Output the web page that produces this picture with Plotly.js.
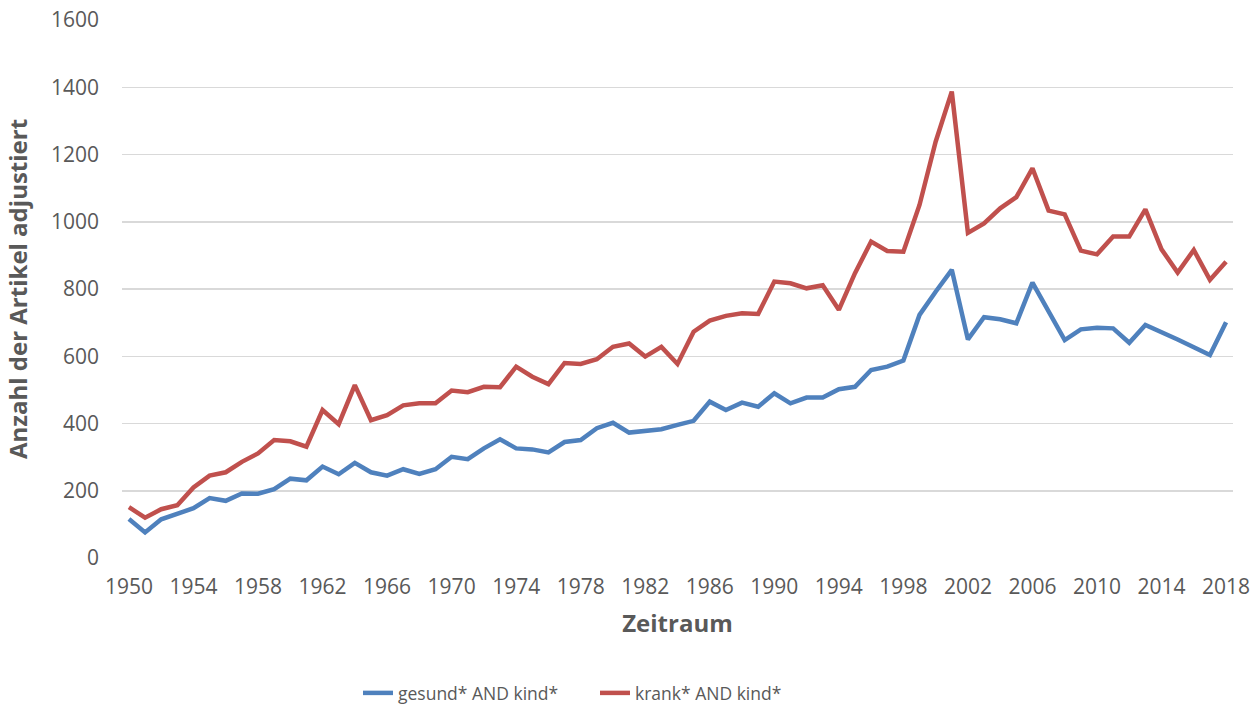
<!DOCTYPE html>
<html>
<head>
<meta charset="utf-8">
<script src="https://cdn.plot.ly/plotly-3.0.1.min.js"></script>
<style>
html,body{margin:0;padding:0;background:#fff;}
#chart{width:1253px;height:705px;}
</style>
</head>
<body>
<div id="chart"></div>
<script>
var years = [];
for (var y = 1950; y <= 2018; y++) years.push(y);

var seriesNames = ["gesund* AND kind*", "krank* AND kind*"];

var gesund = [
  116, 76, 115, 133, 148, 178, 170, 192, 191, 205,
  236, 231, 272, 249, 283, 255, 245, 264, 250, 264,
  301, 294, 326, 353, 326, 323, 314, 345, 351, 386,
  402, 373, 378, 383, 396, 408, 465, 440, 462, 450,
  490, 460, 477, 477, 502, 509, 559, 569, 587, 723,
  792, 857, 650, 716, 710, 698, 819, 733, 648, 680,
  685, 683, 640, 693, 673, 650, 627, 604, 701
];

var krank = [
  151, 120, 145, 157, 210, 245, 255, 286, 311, 351,
  347, 331, 440, 398, 514, 410, 425, 454, 460, 460,
  498, 493, 509, 508, 569, 539, 517, 580, 577, 591,
  628, 638, 599, 628, 577, 673, 706, 720, 728, 726,
  822, 817, 802, 811, 738, 847, 941, 913, 911, 1050,
  1238, 1387, 967, 995, 1040, 1073, 1159, 1033, 1022, 914,
  903, 956, 956, 1037, 918, 849, 916, 827, 881
];

var xTickVals = [1950,1954,1958,1962,1966,1970,1974,1978,1982,1986,1990,1994,1998,2002,2006,2010,2014,2018];
var yTickVals = [0,200,400,600,800,1000,1200,1400,1600];

var FONT = "Open Sans, Noto Sans, sans-serif";
var GREY = "#595959";

var traces = [
  {x: years, y: gesund, name: seriesNames[0], type: "scatter", mode: "lines",
   line: {color: "#4F81BD", width: 4.5}},
  {x: years, y: krank, name: seriesNames[1], type: "scatter", mode: "lines",
   line: {color: "#C0504D", width: 4.5}}
];

var layout = {
  width: 1253, height: 705,
  margin: {l: 122, r: 20, t: 20, b: 147, autoexpand: false},
  paper_bgcolor: "#fff", plot_bgcolor: "#fff",
  font: {family: FONT, color: GREY, size: 20},
  showlegend: true,
  legend: {
    orientation: "h", x: 0.2124, xanchor: "left", y: -0.2175, yanchor: "top",
    font: {family: FONT, size: 17.5, color: GREY},
    entrywidth: 192, entrywidthmode: "pixels",
    traceorder: "normal"
  },
  xaxis: {
    range: [1949.57, 2018.43],
    tickmode: "array", tickvals: xTickVals, ticktext: xTickVals.map(String),
    showgrid: false, zeroline: false, showline: false,
    ticks: "", ticklabelstandoff: 14,
    tickfont: {family: FONT, size: 21, color: GREY},
    title: {text: "Zeitraum", font: {family: FONT, size: 24, color: GREY, weight: "bold"}, standoff: 16}
  },
  yaxis: {
    range: [0, 1600],
    tickmode: "array", tickvals: yTickVals, ticktext: yTickVals.map(String),
    showgrid: true, gridcolor: "#D9D9D9", gridwidth: 1.5,
    zeroline: false, showline: false, ticks: "", ticklabelstandoff: 22,
    tickfont: {family: FONT, size: 21, color: GREY},
    title: {text: "Anzahl der Artikel adjustiert", font: {family: FONT, size: 24, color: GREY, weight: "bold"}, standoff: 16}
  }
};

Plotly.newPlot("chart", traces, layout, {displayModeBar: false, staticPlot: true});
</script>
</body>
</html>
